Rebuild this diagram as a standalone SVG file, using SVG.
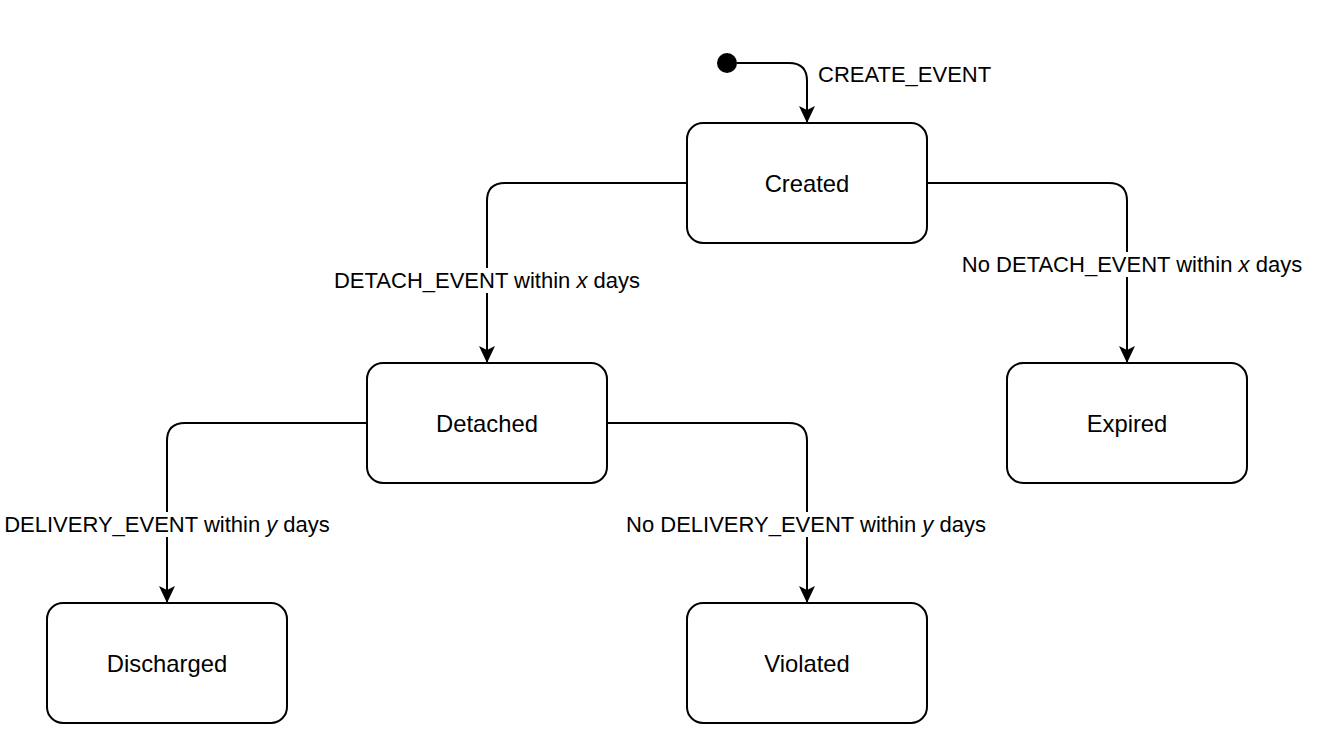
<svg xmlns="http://www.w3.org/2000/svg" width="1324" height="750" viewBox="0 0 1324 750">
<defs>
<style>
.node rect{fill:#fff;stroke:#000;stroke-width:2}
text{font-family:"Liberation Sans",Arial,Helvetica,sans-serif;font-size:22px;fill:#000}
.node text{font-size:23.8px}
.nl{text-anchor:middle}
.edge{fill:none;stroke:#000;stroke-width:2;marker-end:url(#arr)}
.lbg{fill:#fff}
</style>
<marker id="arr" markerUnits="userSpaceOnUse" viewBox="-1 -9 19 18" refX="17" refY="0" markerWidth="19" markerHeight="18" orient="auto">
<path d="M0,-8 L17,0 L0,8 L4,0 Z" fill="#000"/>
</marker>
</defs>
<rect width="1324" height="750" fill="#fff"/>
<g id="connectors">
<path class="edge" d="M737 63 H789 Q807 63 807 81 V123"/>
<path class="edge" d="M687 183 H505 Q487 183 487 201 V363"/>
<path class="edge" d="M927 183 H1109 Q1127 183 1127 201 V363"/>
<path class="edge" d="M367 423 H185 Q167 423 167 441 V603"/>
<path class="edge" d="M607 423 H789 Q807 423 807 441 V603"/>
<g id="labels">
<text x="818" y="82">CREATE_EVENT</text>
<rect class="lbg" x="333" y="268" width="308" height="25"/>
<text class="nl" x="487" y="288">DETACH_EVENT within <tspan font-style="italic">x</tspan> days</text>
<rect class="lbg" x="961" y="252" width="343" height="25"/>
<text class="nl" x="1132" y="272">No DETACH_EVENT within <tspan font-style="italic">x</tspan> days</text>
<rect class="lbg" x="3" y="512" width="329" height="25"/>
<text class="nl" x="167" y="532">DELIVERY_EVENT within <tspan font-style="italic">y</tspan> days</text>
<rect class="lbg" x="624" y="512" width="364" height="25"/>
<text class="nl" x="806" y="532">No DELIVERY_EVENT within <tspan font-style="italic">y</tspan> days</text>
</g>
</g>
<g id="start"><circle cx="727" cy="63" r="10" fill="#000"/></g>
<g id="created" class="node"><rect x="687" y="123" width="240" height="120" rx="16"/><text class="nl" x="807" y="191.5">Created</text></g>
<g id="detached" class="node"><rect x="367" y="363" width="240" height="120" rx="16"/><text class="nl" x="487" y="431.5">Detached</text></g>
<g id="expired" class="node"><rect x="1007" y="363" width="240" height="120" rx="16"/><text class="nl" x="1127" y="431.5">Expired</text></g>
<g id="discharged" class="node"><rect x="47" y="603" width="240" height="120" rx="16"/><text class="nl" x="167" y="671.5">Discharged</text></g>
<g id="violated" class="node"><rect x="687" y="603" width="240" height="120" rx="16"/><text class="nl" x="807" y="671.5">Violated</text></g>
</svg>
